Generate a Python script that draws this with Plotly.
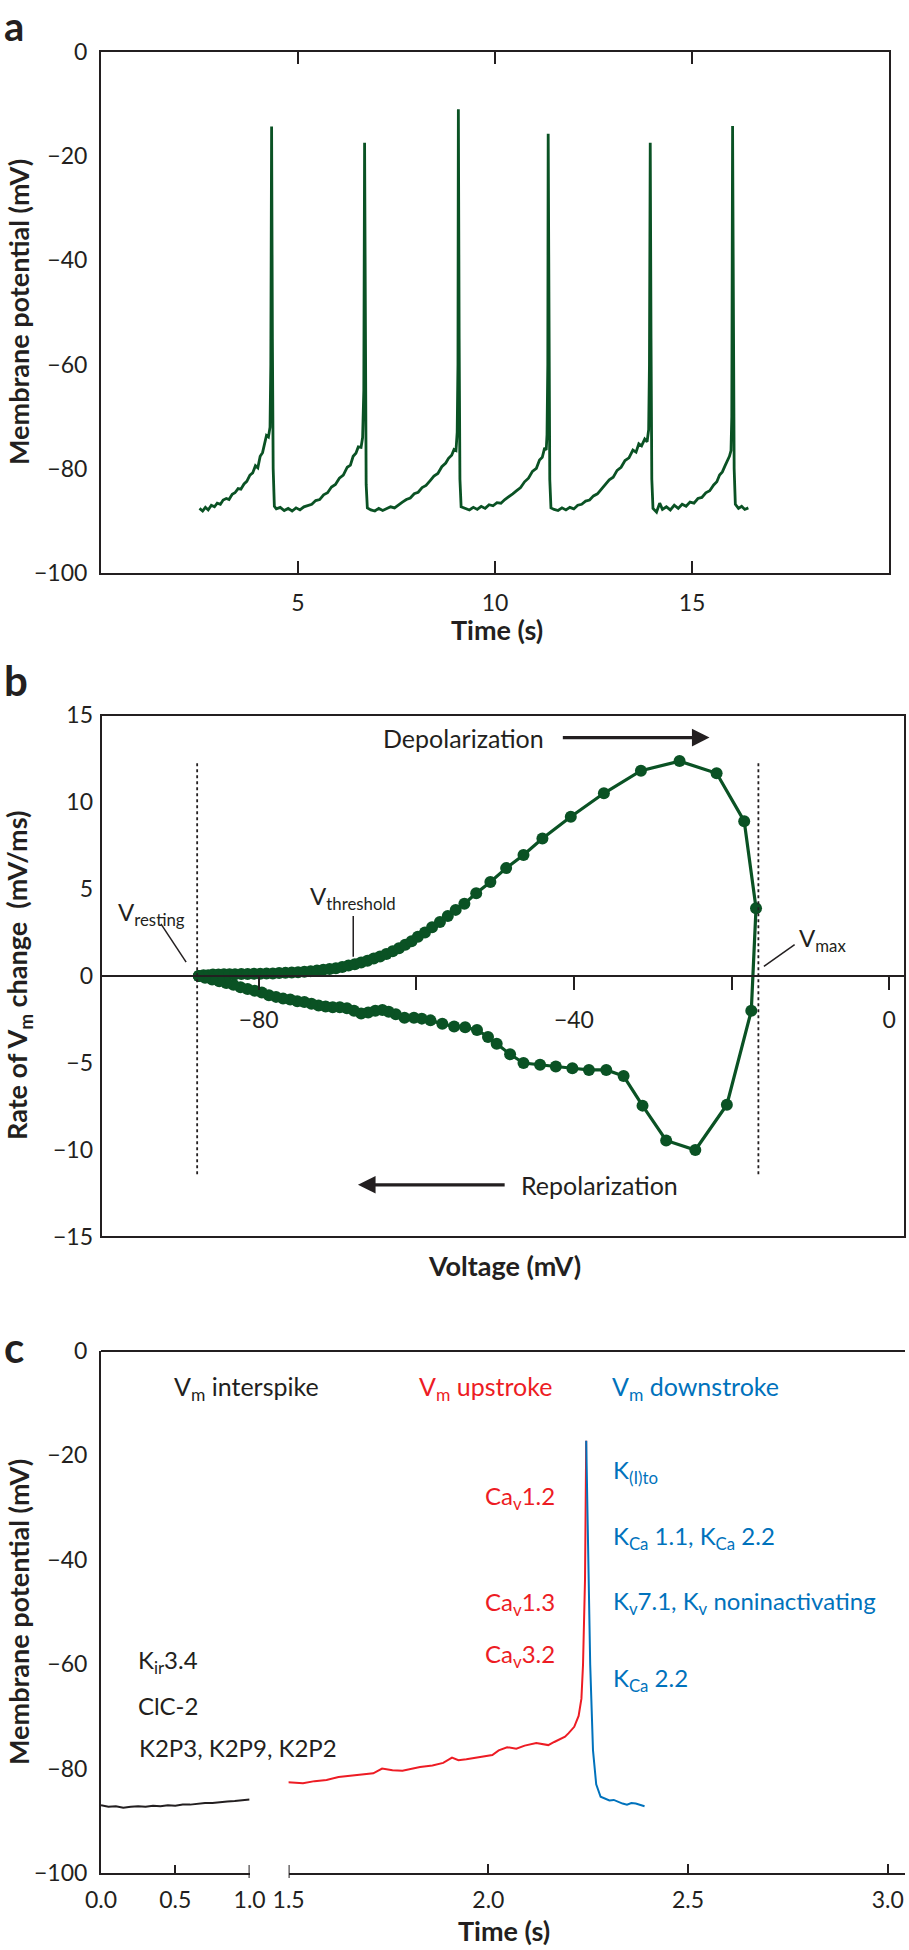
import plotly.graph_objects as go

# ---------------- Panel a: spontaneous action potentials ----------------
a_time = [
    2.50, 2.58, 2.65, 2.72, 2.80, 2.88, 2.95, 3.03, 3.10, 3.18, 3.25, 3.33, 3.40, 3.48, 3.55,
    3.63, 3.70, 3.78, 3.85, 3.92, 3.98, 4.04, 4.10, 4.15, 4.20, 4.25, 4.29, 4.31, 4.33, 4.35,
    4.37, 4.40,
    4.45, 4.55, 4.65, 4.75, 4.85, 4.95, 5.05, 5.15, 5.25, 5.35, 5.45, 5.55, 5.65, 5.75, 5.85,
    5.95, 6.05, 6.15, 6.25, 6.33, 6.40, 6.47, 6.53, 6.60, 6.64, 6.67, 6.69, 6.71, 6.73, 6.76,
    6.85, 6.95, 7.05, 7.15, 7.25, 7.35, 7.45, 7.55, 7.65, 7.75, 7.85, 7.95, 8.05, 8.15, 8.25,
    8.35, 8.45, 8.55, 8.65, 8.75, 8.82, 8.90, 8.96, 9.01, 9.04, 9.06, 9.07, 9.09, 9.11, 9.14,
    9.25, 9.35, 9.45, 9.55, 9.65, 9.75, 9.85, 9.95, 10.05, 10.15, 10.25, 10.35, 10.45, 10.55,
    10.65, 10.75, 10.85, 10.95, 11.05, 11.13, 11.20, 11.26, 11.30, 11.32, 11.34, 11.35, 11.37,
    11.39, 11.42,
    11.50, 11.60, 11.70, 11.80, 11.90, 12.00, 12.10, 12.20, 12.30, 12.40, 12.50, 12.60, 12.70,
    12.80, 12.90, 13.00, 13.10, 13.20, 13.30, 13.40, 13.50, 13.58, 13.65, 13.72, 13.80, 13.86,
    13.90, 13.92, 13.94, 13.96, 13.98, 14.01,
    14.10, 14.18, 14.25, 14.35, 14.45, 14.55, 14.65, 14.75, 14.85, 14.95, 15.05, 15.15, 15.25,
    15.35, 15.45, 15.55, 15.63, 15.70, 15.77, 15.84, 15.90, 15.95, 15.99, 16.01, 16.03, 16.05,
    16.07, 16.10, 16.18, 16.26, 16.34, 16.43,
]
a_vm = [
    -87.6, -88.1, -87.4, -87.9, -87.0, -87.3, -86.6, -86.8, -86.0, -85.7, -85.9, -84.9, -84.6, -83.8, -83.9,
    -82.9, -82.4, -81.2, -80.8, -79.4, -79.8, -77.6, -76.9, -75.2, -73.6, -73.9, -72.0, -60.0, -14.3, -55.0,
    -80.0, -87.2,
    -87.7, -87.4, -88.0, -87.6, -88.1, -87.5, -87.9, -87.3, -87.0, -86.8, -86.1, -85.9, -85.0, -84.6, -83.5,
    -83.0, -81.8, -81.2, -79.7, -79.3, -77.6, -77.0, -75.8, -75.9, -74.0, -65.0, -17.4, -60.0, -83.0, -87.5,
    -87.9, -88.1, -87.6, -88.0, -87.7, -87.3, -87.5, -86.9, -86.4, -85.9, -85.6, -84.8, -84.5, -83.6, -83.2,
    -82.3, -81.4, -80.9, -79.6, -78.9, -78.0, -77.4, -76.3, -76.5, -73.0, -60.0, -11.0, -55.0, -82.0, -87.3,
    -87.6, -87.9, -87.4, -87.8, -87.2, -87.6, -86.9, -87.1, -86.5, -86.6, -85.9, -85.4, -84.8, -84.2,
    -83.6, -82.5, -81.8, -80.5, -79.9, -78.3, -77.8, -76.0, -76.4, -73.5, -60.0, -15.7, -55.0,
    -82.0, -87.5,
    -87.8, -88.0, -87.5, -87.9, -87.4, -87.7, -87.0, -86.8, -86.2, -86.0, -85.2, -84.8, -83.9,
    -83.2, -82.1, -81.6, -80.3, -79.7, -78.4, -77.9, -76.4, -76.8, -75.2, -75.6, -74.3, -74.8,
    -72.5, -60.0, -17.4, -55.0, -82.0, -87.6,
    -88.3, -86.6, -87.8, -87.3, -87.9, -87.0, -87.6, -86.8, -87.2, -86.4, -86.6, -85.7, -85.5,
    -84.6, -84.2, -83.1, -82.5, -81.2, -80.6, -79.4, -78.4, -77.6, -76.5, -70.0, -14.2, -55.0,
    -80.0, -86.8, -87.6, -87.2, -87.8, -87.5,
]

# ---------------- Panel b: phase plot (dV/dt vs V) ----------------
b_voltage = [
    -87.6, -87.0, -86.4, -85.8, -85.1, -84.4, -83.7, -83.0, -82.2, -81.4, -80.6, -79.8, -79.0,
    -78.2, -77.4, -76.6, -75.8, -75.0, -74.2, -73.4, -72.6, -71.8, -71.0, -70.2, -69.4, -68.6,
    -67.8, -67.0, -66.2, -65.4, -64.6, -63.8, -63.0, -62.2, -61.4, -60.6, -59.8, -58.9, -58.0,
    -57.0, -56.0, -55.0, -53.9, -52.4, -50.6, -48.6, -46.4, -44.0, -40.4, -36.2, -31.5, -26.6,
    -21.9, -18.4, -16.9,
    -17.5, -20.6, -24.6, -28.3, -31.3, -33.7, -35.9, -38.1, -40.2, -42.3, -44.3, -46.4, -48.1,
    -49.8, -50.9, -52.3, -53.8, -55.2, -56.7, -58.2, -59.3, -60.3, -61.5, -62.6, -63.5, -64.3,
    -65.2, -66.1, -67.0, -67.9, -68.8, -69.7, -70.6, -71.5, -72.4, -73.3, -74.2, -75.1, -76.0,
    -76.9, -77.8, -78.7, -79.6, -80.5, -81.4, -82.3, -83.2, -84.1, -85.0, -85.9, -86.8, -87.6,
]
b_rate = [
    0.00, 0.05, 0.05, 0.08, 0.08, 0.10, 0.10, 0.10, 0.12, 0.12, 0.13, 0.13, 0.15,
    0.15, 0.17, 0.18, 0.20, 0.22, 0.25, 0.28, 0.32, 0.36, 0.40, 0.45, 0.52, 0.60,
    0.68, 0.78, 0.88, 1.00, 1.12, 1.26, 1.42, 1.60, 1.80, 2.00, 2.25, 2.50, 2.80,
    3.10, 3.45, 3.80, 4.15, 4.75, 5.40, 6.20, 6.95, 7.90, 9.15, 10.50, 11.80, 12.35,
    11.65, 8.90, 3.90,
    -2.00, -7.40, -10.00, -9.45, -7.45, -5.75, -5.40, -5.40, -5.30, -5.20, -5.10, -5.00, -4.50,
    -3.90, -3.50, -3.10, -2.95, -2.90, -2.75, -2.55, -2.45, -2.40, -2.40, -2.20, -2.05, -1.95,
    -2.00, -2.10, -2.15, -2.00, -1.85, -1.80, -1.80, -1.75, -1.70, -1.60, -1.50, -1.45, -1.35,
    -1.30, -1.20, -1.10, -0.95, -0.85, -0.75, -0.65, -0.50, -0.40, -0.30, -0.20, -0.10, 0.00,
]
b_v_resting = -87.8
b_v_max = -16.6
b_v_threshold = -68.0

# ---------------- Panel c: one spike split into phases ----------------
c_inter_t = [0.00, 0.05, 0.10, 0.15, 0.20, 0.25, 0.30, 0.35, 0.40, 0.45, 0.50, 0.55, 0.60,
             0.65, 0.70, 0.75, 0.80, 0.85, 0.90, 0.95, 1.00]
c_inter_v = [-87.0, -87.3, -87.2, -87.5, -87.3, -87.2, -87.3, -87.1, -87.2, -87.0, -87.1,
             -86.9, -86.9, -86.7, -86.6, -86.6, -86.4, -86.3, -86.2, -86.0, -85.9]
c_up_t = [1.497, 1.536, 1.565, 1.595, 1.625, 1.653, 1.685, 1.712, 1.734, 1.760, 1.785, 1.810,
          1.829, 1.860, 1.887, 1.909, 1.925, 1.945, 1.970, 1.989, 2.010, 2.026, 2.047, 2.070,
          2.091, 2.120, 2.150, 2.165, 2.179, 2.192, 2.201, 2.215, 2.226, 2.233, 2.237, 2.242, 2.245]
c_up_v = [-82.6, -82.8, -82.4, -82.2, -81.6, -81.4, -81.2, -80.9, -80.0, -80.3, -80.4, -80.0,
          -79.7, -79.4, -78.9, -77.9, -78.4, -78.2, -77.9, -77.7, -77.4, -76.5, -75.9, -76.2,
          -75.6, -75.1, -75.5, -74.9, -74.4, -73.9, -73.2, -72.0, -69.9, -66.6, -60.1, -43.7, -17.2]
c_down_t = [2.245, 2.249, 2.255, 2.262, 2.270, 2.281, 2.292, 2.303, 2.314, 2.325, 2.336,
            2.347, 2.358, 2.369, 2.380, 2.391]
c_down_v = [-17.2, -35.6, -60.1, -76.5, -83.0, -85.4, -85.8, -86.1, -86.0, -86.4, -86.7,
            -86.9, -86.6, -86.7, -87.0, -87.2]

# tick values / labels
mv_ticks = [0, -20, -40, -60, -80, -100]
mv_labels = ["0", "\u221220", "\u221240", "\u221260", "\u221280", "\u2212100"]
rate_ticks = [15, 10, 5, 0, -5, -10, -15]
rate_labels = ["15", "10", "5", "0", "\u22125", "\u221210", "\u221215"]
volt_ticks = [-80, -60, -40, -20, 0]
volt_labels = ["\u221280", "", "\u221240", "", "0"]

# ---------------- style ----------------
INK = "#231f20"
GREEN = "#0a5224"
RED = "#ed1c24"
BLUE = "#0072bc"
FONT = "Lato, 'Open Sans', sans-serif"
W, H = 909, 1950


def px(x):
    return x / W


def py(y):
    return 1 - y / H


A_X = [px(101), px(889)]
A_Y = [py(573), py(52)]
B_X = [px(101), px(905)]
B_Y = [py(1237), py(715)]
C_Y = [py(1873), py(1351)]
C_X1 = [px(101), px(249.6)]
C_X2 = [px(288.6), px(905)]

fig = go.Figure()
fig.add_trace(go.Scatter(x=a_time, y=a_vm, xaxis="x", yaxis="y", mode="lines",
                         line=dict(color=GREEN, width=2.8), showlegend=False, hoverinfo="skip"))
fig.add_trace(go.Scatter(x=b_voltage, y=b_rate, xaxis="x2", yaxis="y2", mode="lines+markers",
                         line=dict(color=GREEN, width=3.2), marker=dict(size=12, color=GREEN),
                         showlegend=False, hoverinfo="skip"))
fig.add_trace(go.Scatter(x=c_inter_t, y=c_inter_v, xaxis="x3", yaxis="y3", mode="lines",
                         line=dict(color=INK, width=2), showlegend=False, hoverinfo="skip"))
fig.add_trace(go.Scatter(x=c_up_t, y=c_up_v, xaxis="x4", yaxis="y3", mode="lines",
                         line=dict(color=RED, width=2), showlegend=False, hoverinfo="skip"))
fig.add_trace(go.Scatter(x=c_down_t, y=c_down_v, xaxis="x4", yaxis="y3", mode="lines",
                         line=dict(color=BLUE, width=2), showlegend=False, hoverinfo="skip"))

tickfont = dict(family=FONT, size=23, color=INK)
common = dict(showgrid=False, zeroline=False, tickfont=tickfont, linecolor=INK, linewidth=2,
              tickcolor=INK, tickwidth=2, automargin=False)

fig.update_layout(
    width=W, height=H, margin=dict(l=0, r=0, t=0, b=0, pad=0, autoexpand=False),
    paper_bgcolor="white", plot_bgcolor="rgba(0,0,0,0)",
    font=dict(family=FONT, color=INK),
    # panel a
    xaxis=dict(domain=A_X, anchor="y", range=[0, 20], tickvals=[5, 10, 15], ticks="inside",
               ticklen=12, showline=True, mirror="ticks", ticklabelstandoff=8, **common),
    yaxis=dict(domain=A_Y, anchor="x", range=[-100, 0], tickvals=mv_ticks, ticktext=mv_labels,
               ticks="", showline=True, mirror=True, ticklabelstandoff=7, **common),
    yaxis6=dict(overlaying="y", side="right", anchor="x", range=[-100, 0],
                tickvals=[-20, -40, -60, -80], ticks="inside", ticklen=12,
                showticklabels=False, showline=False, **common),
    # panel b
    xaxis2=dict(domain=B_X, anchor="free", position=(B_Y[0] + B_Y[1]) / 2, range=[-100, 2],
                tickvals=volt_ticks, ticktext=volt_labels,
                ticks="outside", ticklen=13, showline=True, ticklabelstandoff=10, **common),
    yaxis2=dict(domain=B_Y, anchor="x2", range=[-15, 15], tickvals=rate_ticks,
                ticktext=rate_labels, ticks="", showline=False, ticklabelstandoff=7, **common),
    yaxis7=dict(overlaying="y2", side="right", anchor="x2", range=[-15, 15],
                tickvals=[-10, -5, 5, 10], ticks="inside", ticklen=12,
                showticklabels=False, showline=False, **common),
    # panel c
    xaxis3=dict(domain=C_X1, anchor="y3", range=[0, 1], tickvals=[0, 0.5, 1.0],
                ticktext=["0.0", "0.5", "1.0"], ticks="inside", ticklen=8, showline=True,
                ticklabelstandoff=5, **common),
    xaxis4=dict(domain=C_X2, anchor="y3", range=[1.5, 3.043], tickvals=[1.5, 2.0, 2.5, 3.0],
                ticktext=["1.5", "2.0", "2.5", "3.0"], ticks="inside", ticklen=9, showline=True,
                ticklabelstandoff=5, **common),
    yaxis3=dict(domain=C_Y, anchor="x3", range=[-100, 0], tickvals=mv_ticks, ticktext=mv_labels,
                ticks="", showline=True, ticklabelstandoff=7, **common),
    yaxis5=dict(overlaying="y3", side="right", anchor="x4", range=[-100, 0],
                tickvals=[-20, -40, -60, -80], ticks="inside", ticklen=10,
                showticklabels=False, showline=True, **common),
)

shapes = []
# panel b frame
shapes.append(dict(type="rect", xref="x2 domain", yref="y2 domain", x0=0, x1=1, y0=0, y1=1,
                   line=dict(color=INK, width=2), fillcolor="rgba(0,0,0,0)", layer="above"))
# panel b dotted markers for V_resting and V_max
for v in (b_v_resting, b_v_max):
    shapes.append(dict(type="line", xref="x2", yref="y2", x0=v, x1=v, y0=-11.4, y1=12.3,
                       line=dict(color=INK, width=1.8, dash="dot")))
# pointer lines
shapes.append(dict(type="line", xref="x2", yref="y2", x0=-92.4, y0=3.0, x1=-89.2, y1=0.8,
                   line=dict(color=INK, width=1.5)))
shapes.append(dict(type="line", xref="x2", yref="y2", x0=b_v_threshold, y0=3.45,
                   x1=b_v_threshold, y1=1.1, line=dict(color=INK, width=1.5)))
shapes.append(dict(type="line", xref="x2", yref="y2", x0=-12.0, y0=1.8, x1=-15.9, y1=0.55,
                   line=dict(color=INK, width=1.5)))
# panel c top frame line
shapes.append(dict(type="line", xref="paper", yref="y3 domain", x0=C_X1[0], x1=C_X2[1],
                   y0=1, y1=1, line=dict(color=INK, width=2)))
# panel c axis-break end caps
shapes.append(dict(type="line", xref="x3", yref="y3 domain", x0=1.0, x1=1.0, y0=-0.0096,
                   y1=0.0153, line=dict(color=INK, width=2)))
shapes.append(dict(type="line", xref="x4", yref="y3 domain", x0=1.5, x1=1.5, y0=-0.0096,
                   y1=0.0153, line=dict(color=INK, width=2)))

ann = []


def txt(text, x, y, xref="paper", yref="paper", size=25, color=INK, xanchor="center",
        yanchor="middle", bold=False, angle=0):
    ann.append(dict(text=("<b>%s</b>" % text) if bold else text, x=x, y=y, xref=xref, yref=yref,
                    showarrow=False, xanchor=xanchor, yanchor=yanchor, textangle=angle,
                    font=dict(family=FONT, size=size, color=color)))


# panel letters
txt("a", px(14), 1.0, size=40, bold=True, yanchor="top")
txt("b", px(16), py(680), size=42, bold=True)
txt("c", px(14), py(1347), size=42, bold=True)

# axis titles
txt("Membrane potential (mV)", px(18), py(312), size=27, bold=True, angle=-90)
txt("Time (s)", px(497), py(629), size=27, bold=True)
txt("Rate of V<sub>m</sub> change  (mV/ms)", px(18), py(976), size=27, bold=True, angle=-90)
txt("Voltage (mV)", px(504), py(1265), size=27, bold=True)
txt("Membrane potential (mV)", px(18), py(1612), size=27, bold=True, angle=-90)
txt("Time (s)", px(504), py(1930), size=27, bold=True)

# panel b labels
txt("V<sub>resting</sub>", -93.6, 3.6, "x2", "y2", size=24)
txt("V<sub>threshold</sub>", -68.0, 4.5, "x2", "y2", size=24)
txt("V<sub>max</sub>", -8.5, 2.1, "x2", "y2", size=24)
txt("Depolarization", -54.0, 13.7, "x2", "y2", size=25)
txt("Repolarization", -36.8, -12.0, "x2", "y2", size=25)
ann.append(dict(text="", x=-22.8, y=13.7, ax=-41.6, ay=13.7, xref="x2", yref="y2",
                axref="x2", ayref="y2", showarrow=True, arrowhead=2, arrowsize=1.1,
                arrowwidth=3.2, arrowcolor=INK))
ann.append(dict(text="", x=-67.4, y=-12.0, ax=-48.6, ay=-12.0, xref="x2", yref="y2",
                axref="x2", ayref="y2", showarrow=True, arrowhead=2, arrowsize=1.1,
                arrowwidth=3.2, arrowcolor=INK))

# panel c labels
txt("V<sub>m</sub> interspike", px(246.6), -7.0, "paper", "y3", size=25, color=INK)
txt("V<sub>m</sub> upstroke", px(485.7), -7.0, "paper", "y3", size=25, color=RED)
txt("V<sub>m</sub> downstroke", px(695.6), -7.0, "paper", "y3", size=25, color=BLUE)
txt("K<sub>ir</sub>3.4", px(136), -59.5, "paper", "y3", size=24, xanchor="left")
txt("ClC-2", px(136), -67.9, "paper", "y3", size=24, xanchor="left")
txt("K2P3, K2P9, K2P2", px(137), -76.0, "paper", "y3", size=24, xanchor="left")
txt("Ca<sub>v</sub>1.2", px(557), -28.0, "paper", "y3", size=24, color=RED, xanchor="right")
txt("Ca<sub>v</sub>1.3", px(557), -48.3, "paper", "y3", size=24, color=RED, xanchor="right")
txt("Ca<sub>v</sub>3.2", px(557), -58.3, "paper", "y3", size=24, color=RED, xanchor="right")
txt("K<sub>(I)to</sub>", px(611), -23.0, "paper", "y3", size=24, color=BLUE, xanchor="left")
txt("K<sub>Ca</sub> 1.1, K<sub>Ca</sub> 2.2", px(611), -35.7, "paper", "y3", size=24,
    color=BLUE, xanchor="left")
txt("K<sub>v</sub>7.1, K<sub>v</sub> noninactivating", px(611), -48.2, "paper", "y3", size=24,
    color=BLUE, xanchor="left")
txt("K<sub>Ca</sub> 2.2", px(611), -63.0, "paper", "y3", size=24, color=BLUE, xanchor="left")

fig.update_layout(shapes=shapes, annotations=ann)
# remove the default 8px page margin so the figure sits at the window's top-left corner
fig.write_html("out.html", config={"displayModeBar": False},
               post_script="document.body.style.margin='0';document.body.style.overflow='hidden';")
